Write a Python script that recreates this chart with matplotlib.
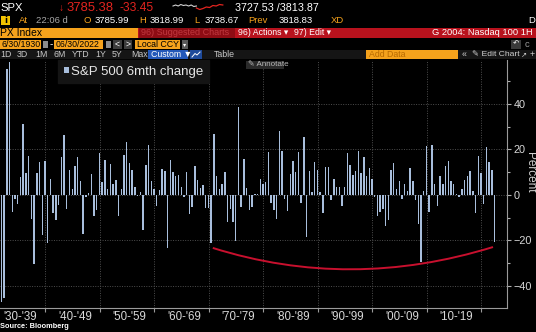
import matplotlib
matplotlib.use('Agg')
import matplotlib.pyplot as plt
import matplotlib.dates as mdates
from matplotlib.patches import Rectangle, PathPatch
from matplotlib.path import Path
from matplotlib import font_manager
import pandas as pd

# S&P 500 change over each half year in percent, Dec 1930 .. Jun 2022
chg_6m = [
    -25.0, -3.3, -47.0, -45.4, 55.5, 58.3, -7.4, -2.0, -4.0, 7.7,
    31.3, 9.5, 16.9, -10.5, -30.5, 9.5, 14.3, -17.8, 15.0, -21.0,
    7.0, -8.0, -11.0, -4.5, 16.5, 26.5, -6.0, 11.0, 2.5, 12.5,
    16.5, 6.0, -17.0, -1.0, 0.7, 9.4, -9.2, -6.8, 18.4, 5.5,
    15.4, 2.7, 13.4, 5.0, 6.4, -9.1, 2.8, 17.7, 23.2, 14.0,
    10.8, 3.3, -0.6, 1.5, -15.6, 13.1, 22.0, 5.9, 2.4, -5.0,
    2.1, 11.2, 10.7, -23.5, 15.3, 9.9, 8.1, 8.9, 3.7, -0.7,
    9.9, -8.3, -5.2, 12.8, 6.4, 3.2, 4.3, -5.9, -5.8, -21.1,
    26.7, 8.2, 2.4, 5.0, 10.2, -11.7, -6.4, -11.8, -20.3, 38.8,
    -5.3, 15.6, 3.0, -6.5, -5.4, 0.5, 0.6, 7.1, 4.9, 5.8,
    18.8, -3.4, -6.6, -10.6, 28.3, 19.5, -1.9, -7.1, 9.2, 14.7,
    10.1, 18.7, -3.5, 25.5, -18.7, 10.7, 1.5, 14.5, 11.1, 1.3,
    -7.8, 12.4, 12.4, -2.1, 6.8, 3.4, 3.5, -4.8, 3.4, 18.6,
    13.1, 8.9, 10.5, 19.5, 9.6, 16.8, 8.4, 11.7, 7.0, -1.0,
    -9.2, -7.3, -6.2, -13.8, -11.1, 10.8, 14.1, 2.6, 6.2, -1.7,
    4.8, 1.8, 11.7, 6.0, -2.3, -12.8, -29.4, 1.8, 21.3, -7.6,
    22.0, 5.0, -4.8, 8.3, 4.7, 12.6, 15.1, 6.1, 5.0, 0.2,
    -0.9, 2.7, 6.7, 8.2, 10.3, 1.7, -7.8, 17.3, 9.8, -4.0,
    21.2, 14.4, 10.9, -20.6,
]
dates = pd.date_range('1930-12-31', periods=len(chg_6m), freq='6ME')

decade_edges = pd.to_datetime([f'{y}-01-01' for y in range(1940, 2030, 10)])
decade_mid = pd.to_datetime([f'{y}-07-01' for y in range(1935, 2020, 10)])
decade_labels = ["'30-'39", "'40-'49", "'50-'59", "'60-'69", "'70-'79",
                 "'80-'89", "'90-'99", "'00-'09", "'10-'19"]

# hand drawn arc under the recent lows
arc_dates = ['1970-10-15', '1996-01-01', '2022-03-15']
arc_vals = [-23.3, -42.3, -22.9]

# quote header
ticker = 'SPX'
last_px, net_chg = '3785.38', '-33.45'
bid_ask = '3727.53 /3813.87'
open_px, high_px, low_px, prev_px = '3785.99', '3818.99', '3738.67', '3818.83'
start_date, end_date = '6/30/1930', '06/30/2022'
periods = ['1D', '3D', '1M', '6M', 'YTD', '1Y', '5Y', 'Max']
spark_white = [6, 5, 6, 4.5, 5.5, 5, 6, 5, 6.5, 6]
spark_red = [8, 9.5, 8.5, 7, 7.5, 5.5, 6, 4.5, 5]

names = {f.name for f in font_manager.fontManager.ttflist}
if 'Liberation Sans Narrow' in names:
    HDR, hs = 'Liberation Sans Narrow', 1.0
else:
    HDR, hs = 'Liberation Sans', 0.9
BODY = 'Liberation Sans'

AMBER = '#f5a21c'
RED = '#e3241f'
BAR = '#a8bedc'

fig = plt.figure(figsize=(5.36, 3.32), dpi=100, facecolor='black')

# ---- chart
ax = fig.add_axes([0, 24 / 332, 507 / 536, 248 / 332])
ax.set_facecolor('black')
ax.bar(dates, chg_6m, width=95, color=BAR, linewidth=0, zorder=2,
       label='S&P 500 6mth change')

arc_x = mdates.date2num(pd.to_datetime(arc_dates))
arc = Path(list(zip(arc_x, arc_vals)), [Path.MOVETO, Path.CURVE3, Path.CURVE3])
ax.add_patch(PathPatch(arc, facecolor='none', edgecolor='#c8102e', lw=1.4, zorder=3))

ax.set_xlim(pd.Timestamp('1931-09-29'), pd.Timestamp('2024-10-08'))
ax.set_ylim(-49.7, 59.3)

ax.set_xticks(decade_edges)
ax.set_xticklabels([])
ax.set_xticks(decade_mid, minor=True)
ax.set_xticklabels(decade_labels, minor=True)
ax.tick_params(axis='x', which='major', length=3, width=0.8, color='#9a9a9a')
ax.tick_params(axis='x', which='minor', length=0, pad=2.5, labelsize=8.3,
               labelcolor='#d8d8d8')

ax.yaxis.tick_right()
ax.set_yticks([-40, -20, 0, 20, 40])
ax.set_yticks([-30, -10, 10, 30, 50], minor=True)
ax.tick_params(axis='y', which='both', color='#b0b0b0', width=0.8,
               labelcolor='#d8d8d8', labelsize=7.8, pad=1.5)
ax.tick_params(axis='y', which='major', length=3)
ax.tick_params(axis='y', which='minor', length=2)
for lab in ax.get_xticklabels(minor=True) + ax.get_yticklabels():
    lab.set_family(BODY)

ax.grid(True, which='major', color='#4e4e4e', lw=0.7, ls=(0, (1, 1.5)), zorder=0)
for side in ('left', 'top'):
    ax.spines[side].set_visible(False)
for side in ('right', 'bottom'):
    ax.spines[side].set_color('#9a9a9a')
    ax.spines[side].set_linewidth(0.8)

leg = ax.legend(loc='upper left', bbox_to_anchor=(58 / 507, 1.0), frameon=True,
                fancybox=False, facecolor='#141414', edgecolor='#141414',
                framealpha=1, borderpad=0.42, borderaxespad=0,
                handlelength=0.38, handleheight=0.38, handletextpad=0.2,
                prop={'family': BODY, 'size': 9.5})
for t in leg.get_texts():
    t.set_color('#e6e6e6')

# ---- terminal chrome, in pixel coordinates
ov = fig.add_axes([0, 0, 1, 1])
ov.set_xlim(0, 536)
ov.set_ylim(332, 0)
ov.axis('off')
ov.patch.set_alpha(0)


def box(x0, y0, x1, y1, color):
    ov.add_patch(Rectangle((x0, y0), x1 - x0, y1 - y0, color=color, lw=0))


def txt(x, y, s, size, color='white', ha='left', family=None, **kw):
    fam = [family or HDR, 'DejaVu Sans']
    ov.text(x, y, s, fontsize=size * hs if family is None else size, color=color,
            ha=ha, va='center', family=fam, **kw)


# row 1: last price
txt(0, 8, ticker, 9)
txt(59, 8, '↓', 8, RED)
txt(66, 8, last_px, 10.4, RED)
txt(120, 8, net_chg, 9.6, RED)
sx = [173 + 2.6 * i for i in range(len(spark_white))]
ov.plot(sx, spark_white, color='#d0d0d0', lw=0.8)
rx = [sx[-1] + 3.3 * i for i in range(len(spark_red))]
ov.plot(rx, spark_red, color=RED, lw=0.9)
txt(235, 8, bid_ask, 8.6)

# row 2: open / high / low
box(1, 16, 10, 25, '#f2c200')
txt(5.5, 20.5, 'i', 6, 'black', ha='center', family='DejaVu Sans', weight='bold')
txt(19, 20.5, 'At', 7.6, AMBER)
txt(36, 20.5, '22:06 d', 7.6, '#a8a8a8')
for lx, lab, val in [(84, 'O', open_px), (139, 'H', high_px),
                     (194, 'L', low_px), (248, 'Prev', prev_px)]:
    txt(lx, 20.5, lab, 7.6, AMBER)
    txt(lx + (31 if lab == 'Prev' else 11), 20.5, val, 7.6)
txt(331, 20.5, 'XD', 7.6, AMBER)
txt(528, 20.5, 'D', 7.6)

# row 3: security / actions bar
box(0, 28, 138, 37.5, AMBER)
txt(0.5, 32.8, 'PX Index', 8.3, 'black')
box(138, 28, 536, 37.5, '#b8121d')
box(139, 28, 235, 37.5, '#8e0c14')
txt(141, 32.8, '96) Suggested Charts', 7.2, '#c0393f')
txt(238, 32.8, '96) Actions ▾', 7.0)
txt(294, 32.8, '97) Edit ▾', 7.0)
txt(533, 32.8, 'G 2004: Nasdaq 100 1H', 7.4, ha='right')

# row 4: date range
box(0, 40, 41, 48.5, AMBER)
txt(1, 44.3, start_date, 7.0, 'black')
box(43, 41, 48, 47.5, '#8c8c8c')
txt(50, 44.3, '-', 8)
box(54, 40, 103, 48.5, AMBER)
txt(56, 44.3, end_date, 7.0, 'black')
box(106, 41, 111, 47.5, '#8c8c8c')
box(113, 40, 122, 48.5, '#3c3c3c')
txt(117.5, 44.3, '<', 7, ha='center')
box(124, 40, 132, 48.5, '#3c3c3c')
txt(128, 44.3, '>', 7, ha='center')
box(135, 40, 180, 48.5, AMBER)
txt(137, 44.3, 'Local CCY', 7.0, 'black')
box(182, 40, 188, 48.5, '#5a5a5a')
txt(185, 44.3, '▾', 5, ha='center')
box(511, 40, 521, 48.5, '#3a3a3a')
txt(516, 44.3, '↶', 6, ha='center')
txt(525, 44.3, 'c', 7.6, '#9a9a9a')

# row 5: period buttons
box(0, 50, 536, 59, '#151515')
for px, p in zip([0, 17, 35, 53, 72, 95, 112, 131], periods):
    txt(px, 54.5, p, 7.0, '#c8c8c8')
box(148, 50, 188, 59, '#2458b8')
txt(151, 54.5, 'Custom ▼', 7.0)
box(190, 50, 202, 59, '#1e4a9a')
ov.plot([192, 195, 197, 200], [57, 53.5, 55, 52], color='white', lw=0.7)
txt(214, 54.5, 'Table', 7.0, '#c8c8c8')
box(366, 50, 458, 59, AMBER)
txt(369, 54.5, 'Add Data', 7.0, '#b86a00')
txt(462, 54.5, '«', 7.0, '#d0d0d0')
txt(472, 54.5, '✎ Edit Chart', 6.8, '#d0d0d0')
txt(521, 54.5, '↗', 5.2, '#d0d0d0', family='DejaVu Sans')
txt(530, 54.5, '+', 7.0, '#d0d0d0')

# annotate button in the plot area
box(246, 60.5, 284, 69, '#2a2a2a')
txt(248, 64.8, '✎ Annotate', 5.8, '#b8b8b8', family=BODY)

txt(529.5, 172, 'Percent', 8.5, '#d0d0d0', ha='center', family=BODY, rotation=270)
txt(0, 326.5, 'Source: Bloomberg', 5.3, 'white', family=BODY, weight='bold')

fig.savefig('out.png', dpi=100, facecolor='black')
